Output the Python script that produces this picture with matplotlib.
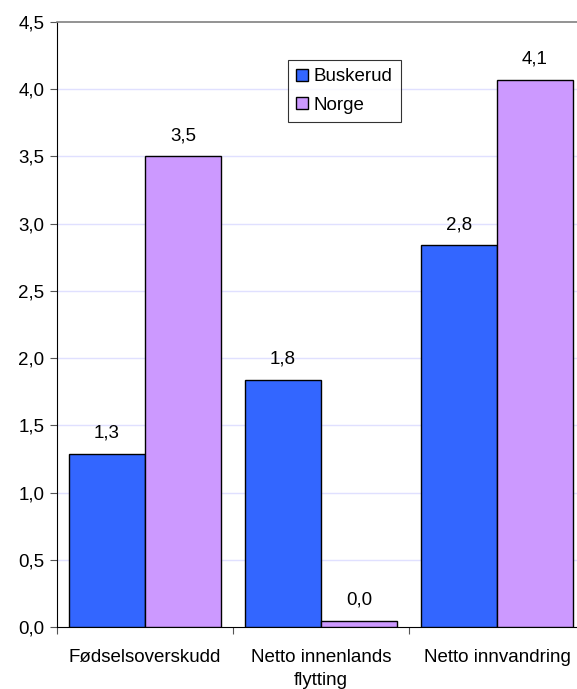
import matplotlib
matplotlib.use("Agg")
import matplotlib.pyplot as plt
import numpy as np

categories = ["Fødselsoverskudd", "Netto innenlands\nflytting", "Netto innvandring"]
series_names = ["Buskerud", "Norge"]
buskerud = [1.29, 1.84, 2.84]
norge = [3.50, 0.045, 4.07]
yticks = [0.0, 0.5, 1.0, 1.5, 2.0, 2.5, 3.0, 3.5, 4.0, 4.5]
colors = ["#3366FF", "#CC99FF"]

plt.rcParams['font.family'] = ['Liberation Sans', 'DejaVu Sans']
FS = 13.5

fig = plt.figure(figsize=(5.77, 6.89), dpi=100)
W, H = 577, 689
left, right, top, bottom = 57, 585, 22, 627
ax = fig.add_axes([left / W, 1 - bottom / H, (right - left) / W, (bottom - top) / H])

x = np.arange(len(categories))
bw = 0.432
for i, (vals, name, c) in enumerate(zip([buskerud, norge], series_names, colors)):
    pos = x + (i - 0.5) * bw
    ax.bar(pos, vals, bw, color=c, edgecolor="black", linewidth=1.0, label=name, zorder=3)
    for p, v in zip(pos, vals):
        ax.text(p, v + 0.09, f"{v:.1f}".replace(".", ","), ha="center", va="bottom",
                fontsize=FS, zorder=4)

ax.set_xlim(-0.5, 2.5)
ax.set_ylim(0, 4.5)
ax.set_yticks(yticks)
ax.set_yticklabels([f"{t:.1f}".replace(".", ",") for t in yticks], fontsize=FS)
ax.set_xticks([-0.5, 0.5, 1.5, 2.5])
ax.set_xticklabels([])
ax.set_xticks(x, minor=True)
ax.set_xticklabels(categories, minor=True, fontsize=FS, linespacing=1.45)
ax.tick_params(axis="x", which="minor", length=0, pad=16)
ax.tick_params(axis="x", which="major", length=5, direction="out", color="#555555")
ax.tick_params(axis="y", length=5, direction="out", pad=4, color="#555555")

for t in yticks[1:-1]:
    ax.axhline(t, color="#E0E0FF", linewidth=1.0, zorder=1)

ax.spines["top"].set_color("#808080")
ax.spines["top"].set_linewidth(1.2)
ax.spines["right"].set_visible(False)
ax.spines["left"].set_color("black")
ax.spines["bottom"].set_color("black")

leg = ax.legend(loc="upper left", bbox_to_anchor=((288 - left) / (right - left), 1 - (60 - top) / (bottom - top)),
                fontsize=FS, frameon=True, fancybox=False, edgecolor="black",
                handlelength=0.6, handleheight=0.6, handletextpad=0.3, borderpad=0.45,
                labelspacing=0.6, borderaxespad=0)
leg.get_frame().set_linewidth(0.8)

fig.savefig("out.png", dpi=100)
